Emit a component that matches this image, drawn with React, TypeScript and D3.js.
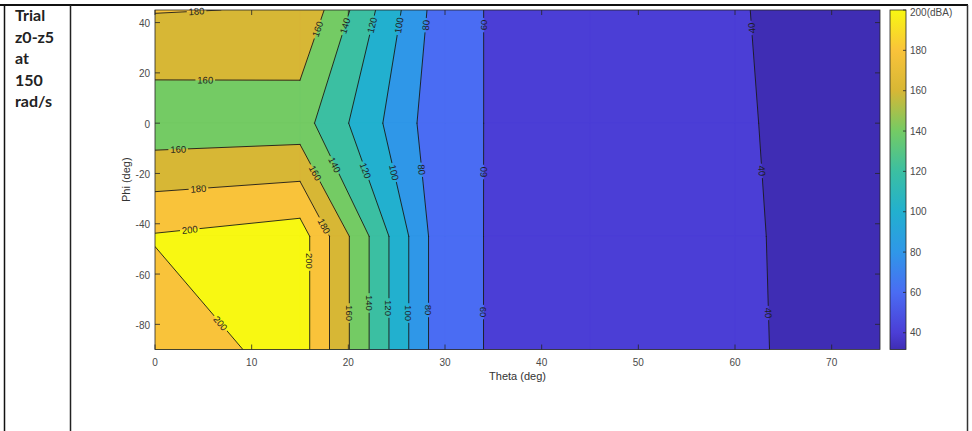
import React from 'react';
import * as d3 from 'd3';

// ---- data ----
const thetaGrid = [0, 15, 30, 45, 60, 75];
const phiGrid = [-90, -45, 0, 45];
const splPhiM90 = [184.9, 209.8, 63.4, 50.6, 42.5, 32.0];
const splPhiM45 = [201.5, 209.8, 63.4, 50.6, 42.2, 32.0];
const splPhi0 = [147.0, 148.5, 63.6, 50.1, 41.6, 31.8];
const splPhi45 = [181.0, 178.8, 66.0, 43.5, 41.0, 31.5];
const levels = [40, 60, 80, 100, 120, 140, 160, 180, 200];
const bandColors = ['#3f2db4', '#4b3ed6', '#4a6cf3', '#2f97e8', '#22b0cf', '#3bbfa2', '#74cb64', '#d7b735', '#f9c33a', '#f8f812'];
const xTicks = [0, 10, 20, 30, 40, 50, 60, 70];
const yTicks = [-80, -60, -40, -20, 0, 20, 40];
const cbarTicks = [40, 60, 80, 100, 120, 140, 160, 180, 200];
const cbarMin = 31.7;
const cbarMax = 200;
const sideText = ['Trial', 'z0-z5', 'at', '150', 'rad/s'];
const labelLevels = [180, 160, 160, 180, 200, 200, 200, 180, 160, 140, 160, 140, 120, 100, 80, 60, 120, 100, 80, 60, 160, 140, 120, 100, 80, 60, 40, 40, 40];
const labelTheta = [4.3, 5.2, 2.4, 4.5, 3.6, 6.8, 15.8, 17.3, 16.4, 18.6, 16.5, 19.4, 22.4, 25.1, 27.9, 33.9, 21.4, 24.5, 27.4, 33.9, 20.2, 22.2, 24.3, 26.4, 28.3, 34.0, 61.5, 62.6, 63.4];
const labelPhi = [44.4, 17.6, -10.7, -26.6, -42.5, -79.5, -54.8, -41.3, -20.2, -16.6, 37.8, 39, 39, 39, 39, 39, -19.4, -19.8, -18.6, -19.4, -75.5, -71.5, -73.5, -75.5, -74.3, -75.1, 37.8, -19, -75.5];
const labelUp = [0, 0, 0, 0, 0, 0, 0, 0, 0, 0, 1, 1, 1, 1, 1, 1, 0, 0, 0, 0, 0, 0, 0, 0, 0, 0, 1, 0, 0];

type P = [number, number];

export default function App() {
  const W = 972, H = 431;
  const L0 = 155, R0 = 880, T0 = 10, B0 = 349.5;
  const x = d3.scaleLinear().domain([0, 75]).range([L0, R0]);
  const y = d3.scaleLinear().domain([-90, 45]).range([B0, T0]);
  const cy = d3.scaleLinear().domain([cbarMin, cbarMax]).range([B0, T0]);
  const cbX0 = 890, cbX1 = 906;

  const grid = [splPhiM90, splPhiM45, splPhi0, splPhi45];
  const val = (i: number, j: number) => grid[j][i];
  const pt = (i: number, j: number): P => [x(thetaGrid[i]), y(phiGrid[j])];
  const lerp = (a: P, b: P, va: number, vb: number, L: number): P => {
    const t = (L - va) / (vb - va);
    return [a[0] + t * (b[0] - a[0]), a[1] + t * (b[1] - a[1])];
  };

  const nT = thetaGrid.length, nP = phiGrid.length;
  const fills: { d: string; color: string }[] = [];
  const segsByLevel: P[][][] = [];
  levels.forEach((L, k) => {
    const path = d3.path();
    const segs: P[][] = [];
    for (let i = 0; i < nT - 1; i++) {
      for (let j = 0; j < nP - 1; j++) {
        const cs: [number, number][] = [[i, j], [i + 1, j], [i + 1, j + 1], [i, j + 1]];
        const poly: P[] = [];
        const cross: P[] = [];
        for (let c = 0; c < 4; c++) {
          const a = cs[c], b = cs[(c + 1) % 4];
          const va = val(a[0], a[1]), vb = val(b[0], b[1]);
          const pa = pt(a[0], a[1]), pb = pt(b[0], b[1]);
          if (va >= L) poly.push(pa);
          if ((va >= L) !== (vb >= L)) {
            const q = lerp(pa, pb, va, vb, L);
            poly.push(q);
            cross.push(q);
          }
        }
        if (poly.length >= 3) {
          path.moveTo(poly[0][0], poly[0][1]);
          for (let q = 1; q < poly.length; q++) path.lineTo(poly[q][0], poly[q][1]);
          path.closePath();
        }
        if (cross.length === 2) segs.push([cross[0], cross[1]]);
        else if (cross.length === 4) {
          segs.push([cross[0], cross[1]]);
          segs.push([cross[2], cross[3]]);
        }
      }
    }
    fills.push({ d: path.toString(), color: bandColors[k + 1] });
    segsByLevel.push(segs);
  });

  const lineGen = (segs: P[][]) => {
    const p = d3.path();
    segs.forEach(s => { p.moveTo(s[0][0], s[0][1]); p.lineTo(s[1][0], s[1][1]); });
    return p.toString();
  };

  // labels snapped onto their contour
  const labels = labelLevels.map((lv, n) => {
    const px: P = [x(labelTheta[n]), y(labelPhi[n])];
    const segs = segsByLevel[levels.indexOf(lv)];
    let best = { d: Infinity, p: px, ang: 0 };
    segs.forEach(s => {
      const [a, b] = s;
      const dx = b[0] - a[0], dy = b[1] - a[1];
      const len2 = dx * dx + dy * dy || 1;
      let t = ((px[0] - a[0]) * dx + (px[1] - a[1]) * dy) / len2;
      t = Math.max(0, Math.min(1, t));
      const q: P = [a[0] + t * dx, a[1] + t * dy];
      const dd = Math.hypot(q[0] - px[0], q[1] - px[1]);
      if (dd < best.d) best = { d: dd, p: q, ang: Math.atan2(dy, dx) * 180 / Math.PI };
    });
    let a = best.ang;
    if (a > 90) a -= 180;
    if (a <= -90) a += 180;
    if (labelUp[n] && a > 0) a -= 180;
    const text = String(lv);
    return { x: best.p[0], y: best.p[1], a, text, w: text.length * 5.2 + 4 };
  });

  const axisColor = '#262626';
  const tickText = '#4a4a4a';
  const font = 'Liberation Sans, Arial, Helvetica, sans-serif';

  const gradStops = [cbarMin, ...levels].map((v, k) => ({ off: (v - cbarMin) / (cbarMax - cbarMin), color: bandColors[k] }));

  return (
    <svg width={W} height={H} style={{ position: 'absolute', left: 0, top: 0, background: '#fff' }}>
      <defs>
        <clipPath id="plotClip">
          <rect x={L0} y={T0} width={R0 - L0} height={B0 - T0} />
        </clipPath>
        <mask id="lblMask" maskUnits="userSpaceOnUse" x={0} y={0} width={W} height={H}>
          <rect x={0} y={0} width={W} height={H} fill="#fff" />
          {labels.map((l, i) => (
            <rect key={i} x={-l.w / 2} y={-4.5} width={l.w} height={9} fill="#000"
              transform={`translate(${l.x},${l.y}) rotate(${l.a})`} />
          ))}
        </mask>
        <linearGradient id="cbGrad" x1="0" y1="1" x2="0" y2="0">
          {gradStops.map((s, i) => <stop key={i} offset={s.off} stopColor={s.color} />)}
        </linearGradient>
      </defs>

      {/* table frame */}
      <line x1={0} y1={5} x2={968} y2={5} stroke="#111" strokeWidth={2} />
      <line x1={4.5} y1={5} x2={4.5} y2={H} stroke="#111" strokeWidth={1.5} />
      <line x1={70.5} y1={5} x2={70.5} y2={H} stroke="#222" strokeWidth={1.5} />
      <line x1={967.5} y1={5} x2={967.5} y2={H} stroke="#333" strokeWidth={1.5} />
      {sideText.map((t, i) => (
        <text key={i} x={15} y={21 + i * 21.6} fontFamily="Lato, 'Open Sans', sans-serif" fontWeight={700}
          fontSize={16} fill="#222">{t}</text>
      ))}

      {/* filled contours */}
      <g clipPath="url(#plotClip)">
        <rect x={L0} y={T0} width={R0 - L0} height={B0 - T0} fill={bandColors[0]} />
        {fills.map((f, i) => (
          <path key={i} d={f.d} fill={f.color} stroke={f.color} strokeWidth={0.6} strokeLinejoin="round" />
        ))}
        <g mask="url(#lblMask)">
          {segsByLevel.map((s, i) => (
            <path key={i} d={lineGen(s)} fill="none" stroke="#1a1a1a" strokeWidth={0.9} strokeLinecap="round" />
          ))}
        </g>
      </g>
      {labels.map((l, i) => (
        <text key={i} transform={`translate(${l.x},${l.y}) rotate(${l.a})`} textAnchor="middle"
          dominantBaseline="central" fontFamily={font} fontSize={9.5} fill="#1e1e1e">{l.text}</text>
      ))}

      {/* axes box and ticks */}
      <rect x={L0} y={T0} width={R0 - L0} height={B0 - T0} fill="none" stroke={axisColor} strokeWidth={0.8} />
      {xTicks.map(t => (
        <g key={t}>
          <line x1={x(t)} x2={x(t)} y1={B0} y2={B0 - 5} stroke={axisColor} strokeWidth={0.8} />
          <line x1={x(t)} x2={x(t)} y1={T0} y2={T0 + 5} stroke={axisColor} strokeWidth={0.8} />
          <text x={x(t)} y={362} textAnchor="middle" dominantBaseline="central" fontFamily={font} fontSize={10} fill={tickText}>{t}</text>
        </g>
      ))}
      {yTicks.map(t => (
        <g key={t}>
          <line x1={L0} x2={L0 + 5} y1={y(t)} y2={y(t)} stroke={axisColor} strokeWidth={0.8} />
          <line x1={R0} x2={R0 - 5} y1={y(t)} y2={y(t)} stroke={axisColor} strokeWidth={0.8} />
          <text x={150} y={y(t) + 1} textAnchor="end" dominantBaseline="central" fontFamily={font} fontSize={10} fill={tickText}>{t}</text>
        </g>
      ))}
      <text x={(L0 + R0) / 2} y={376} textAnchor="middle" dominantBaseline="central" fontFamily={font} fontSize={11} fill="#333">Theta (deg)</text>
      <text transform={`translate(126,${(T0 + B0) / 2}) rotate(-90)`} textAnchor="middle" dominantBaseline="central" fontFamily={font} fontSize={11} fill="#333">Phi (deg)</text>

      {/* colorbar */}
      <rect x={cbX0} y={T0} width={cbX1 - cbX0} height={B0 - T0} fill="url(#cbGrad)" stroke={axisColor} strokeWidth={0.8} />
      {cbarTicks.map(t => (
        <g key={t}>
          <line x1={cbX1} x2={cbX1 - 3} y1={cy(t)} y2={cy(t)} stroke={axisColor} strokeWidth={0.8} />
          <text x={910} y={t === 200 ? cy(t) + 2 : cy(t)} dominantBaseline="central" fontFamily={font} fontSize={10} fill={tickText}>
            {t === 200 ? '200(dBA)' : t}
          </text>
        </g>
      ))}
    </svg>
  );
}
